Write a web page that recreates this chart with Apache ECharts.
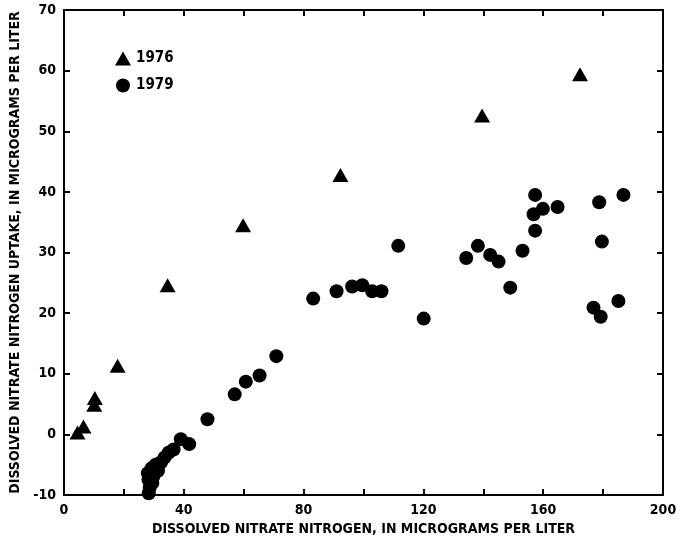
<!DOCTYPE html>
<html>
<head>
<meta charset="utf-8">
<script src="https://cdn.jsdelivr.net/npm/echarts@6/dist/echarts.min.js"></script>
<style>html,body{margin:0;padding:0;background:#fff}#c{width:684px;height:542px}</style>
</head>
<body>
<div id="c"></div>
<script>
const xTitle = "DISSOLVED NITRATE NITROGEN, IN MICROGRAMS PER LITER";
const yTitle = "DISSOLVED NITRATE NITROGEN UPTAKE, IN MICROGRAMS PER LITER";
const xTicks = [0, 40, 80, 120, 160, 200];
const yTicks = [-10, 0, 10, 20, 30, 40, 50, 60, 70];
const series1976 = [
  [4.5, 0.3], [6.5, 1.3], [10.1, 4.9], [10.3, 6.0], [17.9, 11.3], [34.6, 24.6],
  [59.8, 34.5], [92.3, 42.8], [139.6, 52.6], [172.3, 59.4]
];
const series1979 = [
  [28.3, -9.7], [28.6, -8.8], [29.5, -8.0], [28.2, -7.5], [29.8, -7.0], [28.0, -6.4],
  [29.2, -5.6], [30.6, -5.0], [31.4, -6.0], [32.4, -4.6], [33.6, -3.8], [35.0, -3.0],
  [36.6, -2.5], [39.0, -0.8], [41.8, -1.6], [47.9, 2.5], [57.0, 6.6], [60.7, 8.7],
  [65.3, 9.7], [70.9, 12.9], [83.2, 22.4], [91.0, 23.6], [96.2, 24.4], [99.6, 24.6],
  [102.9, 23.6], [106.0, 23.6], [111.6, 31.1], [120.1, 19.1], [134.3, 29.1], [138.2, 31.1],
  [142.3, 29.6], [145.1, 28.5], [149.0, 24.2], [153.1, 30.3], [157.3, 39.5], [156.8, 36.3],
  [159.9, 37.2], [157.3, 33.6], [164.8, 37.5], [178.7, 38.3], [186.8, 39.5], [179.6, 31.8],
  [176.8, 20.9], [179.2, 19.4], [185.1, 22.0]
];
const legendNames = ["1976", "1979"];

const font = "'DejaVu Sans Condensed','Liberation Sans Narrow','Liberation Sans',sans-serif";
const chart = echarts.init(document.getElementById('c'));
const axisLine = {show: true, onZero: false, lineStyle: {color: '#000', width: 2}};
const tick = {show: true, inside: true, length: 6, lineStyle: {color: '#000', width: 2}};
chart.setOption({
  animation: false,
  backgroundColor: '#fff',
  grid: {left: 63, right: 21, top: 10, bottom: 47, containLabel: false},
  legend: {
    left: 110, top: 46, orient: 'vertical', itemGap: 12, itemWidth: 16, itemHeight: 14,
    textStyle: {fontFamily: font, fontSize: 15, fontWeight: 'bold', color: '#000'},
    data: [{name: legendNames[0], icon: 'triangle'}, {name: legendNames[1], icon: 'circle'}]
  },
  xAxis: [{
    type: 'value', min: 0, max: 200, interval: 20, position: 'bottom',
    name: xTitle, nameLocation: 'middle', nameGap: 22,
    nameTextStyle: {fontFamily: font, fontSize: 14, fontWeight: 'bold', color: '#000'},
    axisLine: axisLine, axisTick: tick,
    axisLabel: {fontFamily: font, fontSize: 14, fontWeight: 'bold', color: '#000', margin: 8,
      formatter: v => xTicks.includes(v) ? String(v) : ''},
    splitLine: {show: false}
  }, {
    type: 'value', min: 0, max: 200, interval: 20, position: 'top',
    axisLine: axisLine, axisTick: tick,
    axisLabel: {show: false}, splitLine: {show: false}
  }],
  yAxis: [{
    type: 'value', min: -10, max: 70, interval: 10, position: 'left',
    name: yTitle, nameLocation: 'middle', nameGap: 42,
    nameTextStyle: {fontFamily: font, fontSize: 14, fontWeight: 'bold', color: '#000'},
    axisLine: axisLine, axisTick: tick,
    axisLabel: {fontFamily: font, fontSize: 14, fontWeight: 'bold', color: '#000', margin: 8,
      formatter: v => yTicks.includes(v) ? String(v) : ''},
    splitLine: {show: false}
  }, {
    type: 'value', min: -10, max: 70, interval: 10, position: 'right',
    axisLine: axisLine, axisTick: tick,
    axisLabel: {show: false}, splitLine: {show: false}
  }],
  series: [{
    name: legendNames[0], type: 'scatter', symbol: 'triangle', symbolSize: [16, 14],
    itemStyle: {color: '#000', opacity: 1}, data: series1976
  }, {
    name: legendNames[1], type: 'scatter', symbol: 'circle', symbolSize: 14,
    itemStyle: {color: '#000', opacity: 1}, data: series1979
  }]
});
</script>
</body>
</html>
